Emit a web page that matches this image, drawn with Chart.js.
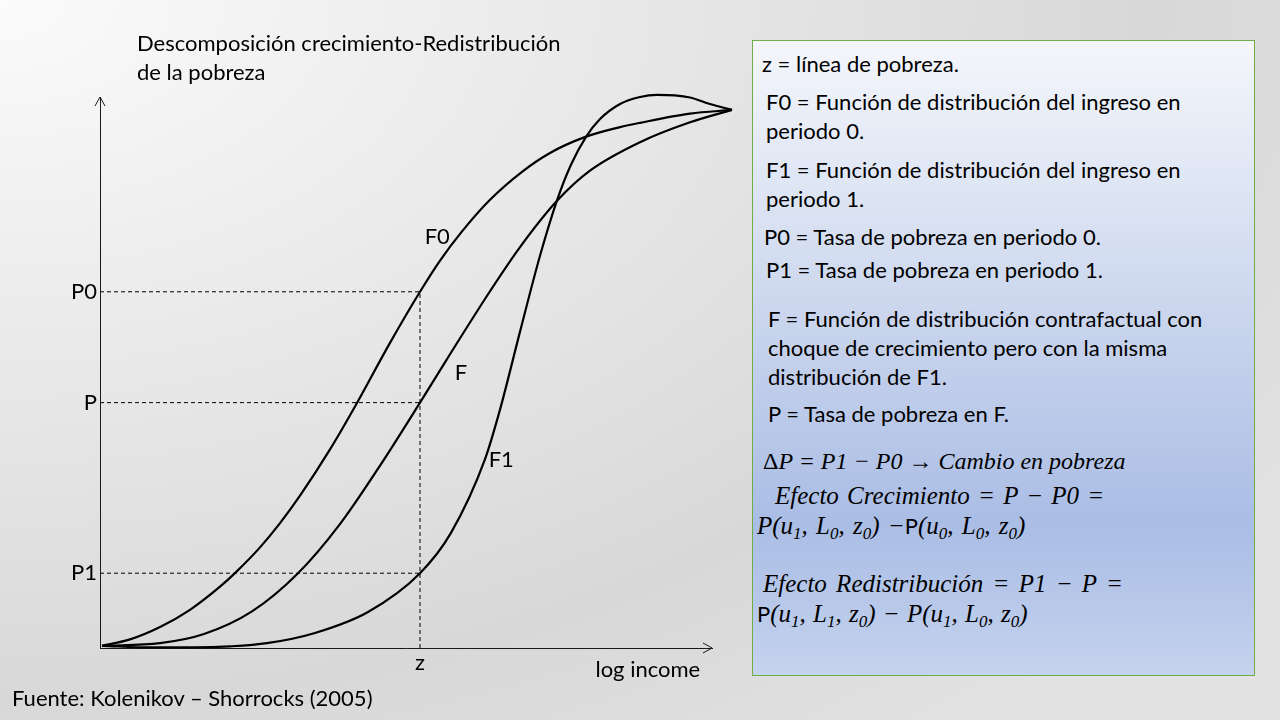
<!DOCTYPE html>
<html lang="es">
<head>
<meta charset="utf-8">
<title>Descomposición crecimiento-Redistribución de la pobreza</title>
<script src="https://cdn.jsdelivr.net/npm/chart.js@4.4.1/dist/chart.umd.min.js"></script>
<style>
  html, body { margin: 0; padding: 0; }
  body {
    width: 1280px; height: 720px; overflow: hidden; position: relative;
    background: radial-gradient(ellipse 120% 130% at 0% 0%, #fbfbfb 0%, #e6e6e6 45%, #d8d8d8 75%, #e2e2e2 100%);
    font-family: Lato, "Noto Sans", sans-serif; color: #000;
  }
  #chart { position: absolute; left: 0; top: 0; }
  .t { position: absolute; line-height: 30px; white-space: nowrap; }
  .title { font-size: 22px; left: 137px; }
  .src { font-size: 22px; left: 12px; top: 683px; }
  #box {
    position: absolute; left: 752px; top: 40px; width: 501px; height: 634px;
    border: 1px solid #70ad47;
    background: linear-gradient(180deg, #f4f6fb 0%, #dfe6f4 22%, #c6d2ec 48%, #aabde5 76%, #b6c7e9 88%, #c6d3ee 100%);
  }
  .bx { font-size: 22px; }
  .m { font-family: "Liberation Serif", "DejaVu Serif", serif; font-style: italic; font-size: 25px; word-spacing: 2px; }
  .m sub { font-size: 17px; vertical-align: -5px; line-height: 0; }
  .up { font-family: Lato, "Noto Sans", sans-serif; font-style: normal; font-size: 22px; }
</style>
</head>
<body>
<canvas id="chart" width="760" height="720"></canvas>

<div class="t title" style="top:28px">Descomposición crecimiento-Redistribución</div>
<div class="t title" style="top:57px">de la pobreza</div>
<div class="t src">Fuente: Kolenikov – Shorrocks (2005)</div>

<div id="box"></div>
<div class="t bx" style="left:762px; top:49px">z = línea de pobreza.</div>
<div class="t bx" style="left:766px; top:87px">F0 = Función de distribución del ingreso en</div>
<div class="t bx" style="left:766px; top:116px">periodo 0.</div>
<div class="t bx" style="left:766px; top:155px">F1 = Función de distribución del ingreso en</div>
<div class="t bx" style="left:766px; top:184px">periodo 1.</div>
<div class="t bx" style="left:764px; top:222px">P0 = Tasa de pobreza en periodo 0.</div>
<div class="t bx" style="left:766px; top:255px">P1 = Tasa de pobreza en periodo 1.</div>
<div class="t bx" style="left:768px; top:304px">F = Función de distribución contrafactual con</div>
<div class="t bx" style="left:768px; top:333px">choque de crecimiento pero con la misma</div>
<div class="t bx" style="left:768px; top:362px">distribución de F1.</div>
<div class="t bx" style="left:768px; top:399px">P = Tasa de pobreza en F.</div>
<div class="t m" style="left:763px; top:446px; font-size:24px; word-spacing:0"><span style="font-style:normal">Δ</span>P = P1 − P0 → Cambio en pobreza</div>
<div class="t m" style="left:775px; top:481px">Efecto Crecimiento = P − P0 =</div>
<div class="t m" style="left:757px; top:511px">P(u<sub>1</sub>, L<sub>0</sub>, z<sub>0</sub>) −<span class="up">P</span>(u<sub>0</sub>, L<sub>0</sub>, z<sub>0</sub>)</div>
<div class="t m" style="left:763px; top:569px; word-spacing:3px">Efecto Redistribución = P1 − P =</div>
<div class="t m" style="left:757px; top:599px; word-spacing:1px"><span class="up">P</span>(u<sub>1</sub>, L<sub>1</sub>, z<sub>0</sub>) − P(u<sub>1</sub>, L<sub>0</sub>, z<sub>0</sub>)</div>

<script>
// axis ranges (log income on x, cumulative share on y)
const xMax = 9.5625;
const yMax = 1.024;

// poverty line and poverty rates read at z
const zLine = 5.0;
const rateNames = ['P1', 'P', 'P0'];
const rateValues = [0.139, 0.456, 0.662];

// F0: income distribution, period 0
const f0X = [0.031, 0.469, 0.938, 1.406, 1.875, 2.125, 2.5, 2.813, 3.125, 3.594, 4.0, 4.531, 5.0,
  5.313, 5.641, 6.094, 6.594, 7.031, 7.563, 8.125, 8.438, 9.219, 9.875];
const f0Y = [0.004, 0.016, 0.039, 0.071, 0.114, 0.141, 0.187, 0.232, 0.283, 0.369, 0.452, 0.567, 0.662,
  0.720, 0.772, 0.833, 0.885, 0.920, 0.949, 0.968, 0.976, 0.993, 1.0];

// F: counterfactual distribution
const fX = [0.031, 0.938, 1.625, 2.375, 3.094, 3.734, 4.375, 5.0, 5.422, 6.094, 6.563, 7.141,
  7.656, 8.438, 9.219, 9.875];
const fY = [0.004, 0.009, 0.026, 0.068, 0.139, 0.228, 0.339, 0.456, 0.537, 0.663, 0.745, 0.831,
  0.887, 0.940, 0.977, 1.0];

// F1: income distribution, period 1
const f1X = [0.031, 0.781, 1.469, 2.031, 2.609, 3.359, 4.188, 5.0, 5.484, 6.016, 6.25, 6.563,
  6.875, 7.141, 7.359, 7.594, 7.813, 8.125, 8.438, 8.703, 8.984, 9.219, 9.531, 9.875];
const f1Y = [0.004, 0.001, 0.001, 0.003, 0.009, 0.028, 0.067, 0.139, 0.214, 0.351, 0.443, 0.588,
  0.729, 0.832, 0.898, 0.950, 0.983, 1.011, 1.024, 1.028, 1.027, 1.023, 1.011, 1.0];

const curveNames = ['F0', 'F', 'F1'];

// where the curve names sit (data units)
const nameX = [5.27, 5.64, 6.27];
const nameY = [0.764, 0.511, 0.349];

const toPoints = (xs, ys) => xs.map((x, i) => ({ x, y: ys[i] }));

function curve(label, xs, ys) {
  return {
    label,
    data: toPoints(xs, ys),
    borderColor: '#000',
    borderWidth: 2.2,
    pointRadius: 0,
    cubicInterpolationMode: 'monotone',
    clip: false,
    fill: false
  };
}

function dashed(label, points) {
  return {
    label,
    data: points,
    borderColor: '#000',
    borderWidth: 1,
    borderDash: [4, 3],
    pointRadius: 0,
    tension: 0,
    fill: false
  };
}

// dashed guides from the axis to each curve at z, plus the vertical one at z
const guides = rateValues.map((v, i) =>
  dashed('guide ' + rateNames[i], [{ x: 0, y: v }, { x: zLine, y: v }]));
guides.push(dashed('z', [{ x: zLine, y: 0 }, { x: zLine, y: Math.max(...rateValues) }]));

const extras = {
  id: 'extras',
  afterDraw(chart) {
    const { ctx, chartArea: a, scales: { x, y } } = chart;
    ctx.save();
    // arrow heads on both axes
    ctx.strokeStyle = '#1a1a1a';
    ctx.lineWidth = 1;
    ctx.beginPath();
    ctx.moveTo(a.left - 5, a.top + 9);
    ctx.lineTo(a.left, a.top);
    ctx.lineTo(a.left + 5, a.top + 9);
    ctx.moveTo(a.right - 9, a.bottom - 5);
    ctx.lineTo(a.right, a.bottom);
    ctx.lineTo(a.right - 9, a.bottom + 5);
    ctx.stroke();

    ctx.fillStyle = '#000';
    ctx.font = '22px Lato, "Noto Sans", sans-serif';
    ctx.textAlign = 'center';
    ctx.textBaseline = 'middle';
    curveNames.forEach((n, i) => {
      ctx.fillText(n, x.getPixelForValue(nameX[i]), y.getPixelForValue(nameY[i]));
    });
    ctx.fillText('log income', x.getPixelForValue(8.56), y.getPixelForValue(-0.041));
    ctx.restore();
  }
};

new Chart(document.getElementById('chart'), {
  type: 'line',
  data: {
    datasets: [
      ...guides,
      curve(curveNames[0], f0X, f0Y),
      curve(curveNames[1], fX, fY),
      curve(curveNames[2], f1X, f1Y)
    ]
  },
  options: {
    responsive: false,
    animation: false,
    devicePixelRatio: 1,
    layout: { padding: { left: 0, right: 48, top: 97, bottom: 0 } },
    plugins: { legend: { display: false }, tooltip: { enabled: false } },
    scales: {
      x: {
        type: 'linear',
        min: 0,
        max: xMax,
        grid: { display: false, drawTicks: false },
        border: { display: true, color: '#1a1a1a', width: 1 },
        afterBuildTicks: s => { s.ticks = [{ value: zLine }]; },
        afterFit: s => { s.height = 72; },
        ticks: {
          color: '#000',
          padding: 2,
          font: { family: 'Lato', size: 22 },
          callback: () => 'z'
        }
      },
      y: {
        type: 'linear',
        min: 0,
        max: yMax,
        grid: { display: false, drawTicks: false },
        border: { display: true, color: '#1a1a1a', width: 1 },
        afterBuildTicks: s => { s.ticks = rateValues.map(v => ({ value: v })); },
        afterFit: s => { s.width = 100; },
        ticks: {
          color: '#000',
          padding: 3,
          font: { family: 'Lato', size: 22 },
          callback: (v, i) => rateNames[i]
        }
      }
    }
  },
  plugins: [extras]
});
</script>
</body>
</html>
